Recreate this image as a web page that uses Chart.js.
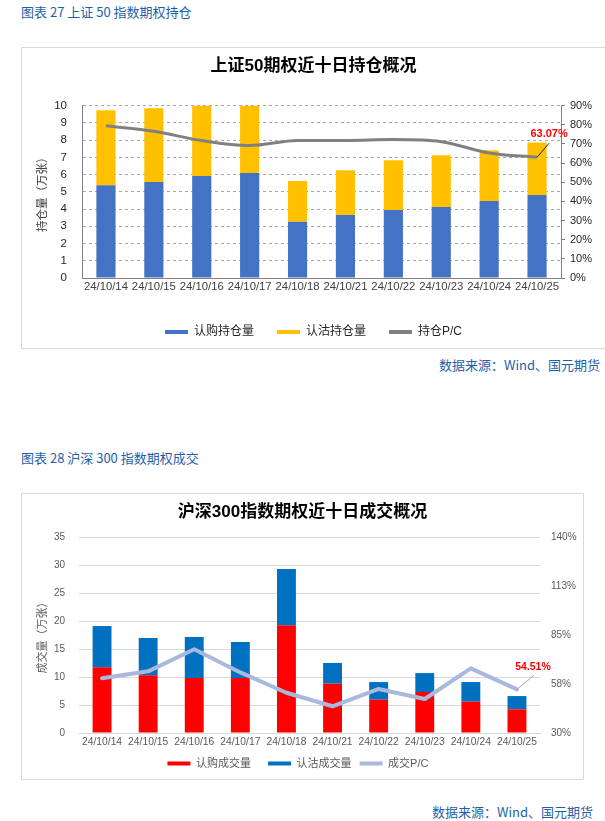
<!DOCTYPE html>
<html>
<head>
<meta charset="utf-8">
<script src="https://cdn.jsdelivr.net/npm/chart.js@4/dist/chart.umd.min.js"></script>
<style>
  body { margin: 0; width: 605px; height: 821px; overflow: hidden; background: #fff; position: relative; }
  .cap { position: absolute; left: 21px; font: 13px 'Noto Sans CJK SC', sans-serif; line-height: 18px; color: #1F5FA8; white-space: nowrap; }
  .src { position: absolute; font: 13px 'Noto Sans CJK SC', sans-serif; line-height: 18px; color: #1F5FA8; white-space: nowrap; }
  .box { position: absolute; border: 1px solid #D9D9D9; box-sizing: border-box; }
  .box canvas { position: absolute; left: 0; top: 0; }
</style>
</head>
<body>
<div class="cap" style="top:3px">图表 27 上证 50 指数期权持仓</div>
<div class="box" style="left:21px;top:47px;width:586px;height:302px"><canvas id="c1" width="583" height="300"></canvas></div>
<div class="src" style="right:5px;top:356px">数据来源：Wind、国元期货</div>

<div class="cap" style="top:449px">图表 28 沪深 300 指数期权成交</div>
<div class="box" style="left:21px;top:493px;width:563px;height:287px"><canvas id="c2" width="561" height="285"></canvas></div>
<div class="src" style="right:12px;top:803px">数据来源：Wind、国元期货</div>

<script>
// dates shared by both charts
var dates = ['24/10/14', '24/10/15', '24/10/16', '24/10/17', '24/10/18', '24/10/21', '24/10/22', '24/10/23', '24/10/24', '24/10/25'];

// 上证50 持仓 (万张) and P/C (%)
var oiCall = [5.39, 5.57, 5.92, 6.09, 3.26, 3.66, 3.95, 4.12, 4.47, 4.82];
var oiPut  = [4.34, 4.28, 4.26, 4.24, 2.37, 2.60, 2.89, 3.01, 2.95, 3.04];
var oiPC   = [79.5, 76.6, 71.8, 69.2, 71.8, 71.8, 72.3, 71.2, 65.3, 63.07];

// 沪深300 成交 (万张) and P/C (%)
var volCall = [11.73, 10.30, 9.82, 9.82, 19.23, 8.81, 5.95, 7.32, 5.60, 4.23];
var volPut  = [7.37, 6.66, 7.32, 6.43, 10.07, 3.69, 3.15, 3.38, 3.50, 2.37];
var volPC   = [60.7, 64.6, 77.0, 64.0, 52.6, 45.0, 54.7, 49.1, 66.3, 54.51];

var FONT = "'Liberation Sans', 'Noto Sans CJK SC', sans-serif";
Chart.defaults.font.family = FONT;

// red value label on the last P/C point, with a small leader line
var lastLabel = {
  id: 'lastLabel',
  afterDatasetsDraw: function(chart, args, o) {
    var meta = chart.getDatasetMeta(2);
    var i = meta.data.length - 1;
    var pt = meta.data[i];
    var v = chart.data.datasets[2].data[i];
    var ctx = chart.ctx;
    ctx.save();
    ctx.strokeStyle = o.lineColor;
    ctx.lineWidth = 1;
    ctx.beginPath();
    ctx.moveTo(pt.x, pt.y);
    ctx.lineTo(pt.x + o.dx, pt.y + o.dy);
    ctx.stroke();
    ctx.fillStyle = '#FF0000';
    ctx.font = 'bold ' + o.size + 'px ' + FONT;
    ctx.textAlign = 'center';
    ctx.textBaseline = 'middle';
    ctx.fillText(v.toFixed(2) + '%', pt.x + o.tx, pt.y + o.ty);
    ctx.restore();
  }
};

// flat colour bars in the legend; pad = extra spaces after each item but the last
function legendLabels(pad) {
  return function(chart) {
    var items = Chart.defaults.plugins.legend.labels.generateLabels(chart);
    return items.map(function(l, k) {
      l.fillStyle = chart.data.datasets[l.datasetIndex].borderColor;
      l.strokeStyle = 'rgba(0,0,0,0)';
      l.lineWidth = 0;
      if (k < items.length - 1) l.text = l.text + pad;
      return l;
    });
  };
}

new Chart(document.getElementById('c1'), {
  type: 'bar',
  data: {
    labels: dates,
    datasets: [
      { label: '认购持仓量', data: oiCall, backgroundColor: '#4472C4', borderColor: '#4472C4', borderWidth: 0, yAxisID: 'y', order: 1 },
      { label: '认沽持仓量', data: oiPut, backgroundColor: '#FFC000', borderColor: '#FFC000', borderWidth: 0, yAxisID: 'y', order: 1 },
      { type: 'line', label: '持仓P/C', data: oiPC, borderColor: '#808080', backgroundColor: '#808080', borderWidth: 3,
        pointRadius: 0, yAxisID: 'y1', order: 0, cubicInterpolationMode: 'monotone', borderJoinStyle: 'round' }
    ]
  },
  options: {
    responsive: false,
    animation: false,
    layout: { padding: 0 },
    datasets: { bar: { categoryPercentage: 1, barPercentage: 0.4 } },
    scales: {
      x: {
        stacked: true,
        grid: { display: false, drawTicks: false },
        border: { color: '#808080' },
        ticks: { padding: 2, color: '#404040', font: { size: 11.3 }, maxRotation: 0, autoSkip: false },
        afterFit: function(s) { s.height = 25; }
      },
      y: {
        stacked: true, min: 0, max: 10,
        ticks: { stepSize: 1, padding: 15, color: '#262626', font: { size: 11.5 } },
        grid: { color: '#A6A6A6', drawTicks: false },
        border: { color: '#808080', dash: [3, 3] },
        title: { display: true, text: '持仓量（万张）', color: '#404040', font: { size: 11.5 }, padding: { top: 14, bottom: 0 } },
        afterFit: function(s) { s.width = 60; }
      },
      y1: {
        position: 'right', min: 0, max: 90,
        ticks: { stepSize: 10, padding: 5, color: '#262626', font: { size: 11 }, callback: function(v) { return v + '%'; } },
        grid: { drawOnChartArea: false, tickLength: 4, color: '#808080' },
        border: { color: '#808080' },
        afterFit: function(s) { s.width = 44; }
      }
    },
    plugins: {
      title: { display: true, text: '上证50期权近十日持仓概况', color: '#000', font: { size: 17, weight: 'bold' }, padding: { top: 8, bottom: 29.3 } },
      legend: {
        position: 'bottom',
        labels: { boxWidth: 23, boxHeight: 4, padding: 23, color: '#262626', font: { size: 12 },
          generateLabels: legendLabels(''), sort: function(a, b) { return a.datasetIndex - b.datasetIndex; } }
      },
      tooltip: { enabled: false },
      lastLabel: { dx: 12, dy: -14, tx: 12, ty: -23, size: 11, lineColor: '#262626' }
    }
  },
  plugins: [lastLabel]
});

new Chart(document.getElementById('c2'), {
  type: 'bar',
  data: {
    labels: dates,
    datasets: [
      { label: '认购成交量', data: volCall, backgroundColor: '#FF0000', borderColor: '#FF0000', borderWidth: 0, yAxisID: 'y', order: 1 },
      { label: '认沽成交量', data: volPut, backgroundColor: '#0070C0', borderColor: '#0070C0', borderWidth: 0, yAxisID: 'y', order: 1 },
      { type: 'line', label: '成交P/C', data: volPC, borderColor: '#A9B8DE', backgroundColor: '#A9B8DE', borderWidth: 4,
        pointRadius: 0, yAxisID: 'y1', order: 0, tension: 0, borderJoinStyle: 'round', borderCapStyle: 'round' }
    ]
  },
  options: {
    responsive: false,
    animation: false,
    layout: { padding: 0 },
    datasets: { bar: { categoryPercentage: 1, barPercentage: 0.41 } },
    scales: {
      x: {
        stacked: true,
        grid: { display: false, drawTicks: false },
        border: { color: '#D9D9D9' },
        ticks: { padding: 3, color: '#595959', font: { size: 10.3 }, maxRotation: 0, autoSkip: false },
        afterFit: function(s) { s.height = 17; }
      },
      y: {
        stacked: true, min: 0, max: 35,
        ticks: { stepSize: 5, padding: 14, color: '#595959', font: { size: 10 } },
        grid: { color: '#D9D9D9', drawTicks: false },
        border: { display: false },
        title: { display: true, text: '成交量（万张）', color: '#595959', font: { size: 11 }, padding: { top: 14, bottom: 0 } },
        afterFit: function(s) { s.width = 57; }
      },
      y1: {
        position: 'right', min: 30, max: 140,
        ticks: { stepSize: 27.5, padding: 11, color: '#595959', font: { size: 10 }, callback: function(v) { return Math.round(v) + '%'; } },
        grid: { display: false, drawTicks: false },
        border: { display: false },
        afterFit: function(s) { s.width = 43; }
      }
    },
    plugins: {
      title: { display: true, text: '沪深300指数期权近十日成交概况', color: '#000', font: { size: 17, weight: 'bold' }, padding: { top: 8, bottom: 14.6 } },
      legend: {
        position: 'bottom',
        labels: { boxWidth: 23, boxHeight: 4, padding: 8, color: '#595959', font: { size: 11 },
          generateLabels: legendLabels('   '), sort: function(a, b) { return a.datasetIndex - b.datasetIndex; } }
      },
      tooltip: { enabled: false },
      lastLabel: { dx: 17, dy: -14, tx: 16, ty: -22, size: 10.5, lineColor: '#A6A6A6' }
    }
  },
  plugins: [lastLabel]
});
</script>
</body>
</html>
